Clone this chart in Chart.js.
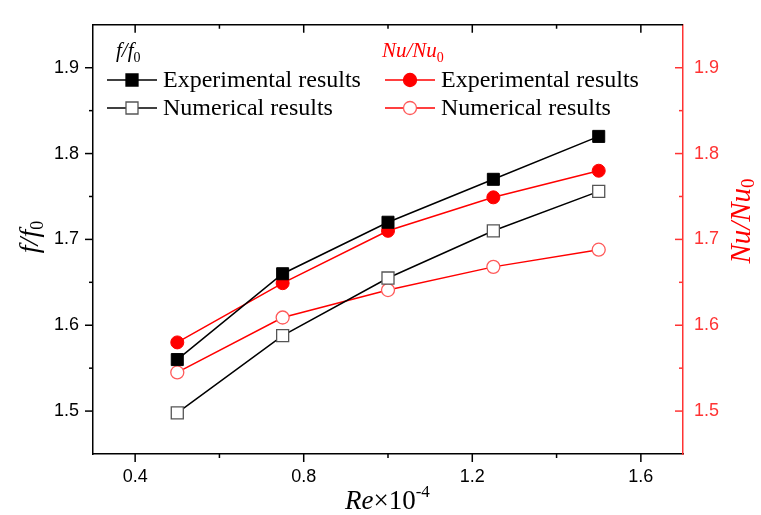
<!DOCTYPE html>
<html>
<head>
<meta charset="utf-8">
<script src="https://cdn.jsdelivr.net/npm/chart.js@4.4.1/dist/chart.umd.min.js"></script>
<style>
  body { margin: 0; background: #fff; }
  #wrap { width: 761px; height: 515px; position: relative; }
</style>
</head>
<body>
<div id="wrap"><canvas id="chart"></canvas></div>
<script>
// Data
const reValues = [0.5, 0.75, 1.0, 1.25, 1.5];
const fExp = [1.56, 1.66, 1.72, 1.77, 1.82];
const fNum = [1.498, 1.588, 1.655, 1.71, 1.756];
const nuExp = [1.58, 1.649, 1.71, 1.749, 1.78];
const nuNum = [1.545, 1.609, 1.641, 1.668, 1.688];
const xTickLabels = [0.4, 0.8, 1.2, 1.6];
const yTickLabels = [1.5, 1.6, 1.7, 1.8, 1.9];

const RED = '#ff0000';
const RED_AXIS = '#ff3333';
const SERIF = '"Liberation Serif", "Times New Roman", serif';
const SANS = '"Liberation Sans", Arial, sans-serif';

function toPoints(ys) {
    return reValues.map((x, i) => ({ x: x, y: ys[i] }));
}

function isLabel(list, v) {
    return list.some(l => Math.abs(l - v) < 1e-6);
}

// draw a run of text pieces (for italic / sub / superscripts)
function drawParts(ctx, parts, x, y) {
    let cx = x;
    parts.forEach(p => {
        ctx.font = p.font;
        ctx.fillStyle = p.color;
        ctx.fillText(p.t, cx, y + (p.dy || 0));
        cx += ctx.measureText(p.t).width;
    });
    return cx;
}
function partsWidth(ctx, parts) {
    let w = 0;
    parts.forEach(p => { ctx.font = p.font; w += ctx.measureText(p.t).width; });
    return w;
}

function drawMarker(ctx, style, x, y, fill, stroke, lw) {
    ctx.save();
    ctx.beginPath();
    if (style === 'rect') {
        ctx.rect(x - 6, y - 6, 12, 12);
    } else {
        ctx.arc(x, y, 6.5, 0, Math.PI * 2);
    }
    ctx.fillStyle = fill;
    ctx.fill();
    ctx.lineWidth = lw;
    ctx.strokeStyle = stroke;
    ctx.stroke();
    ctx.restore();
}

const decorPlugin = {
    id: 'decor',
    afterDraw(chart) {
        const ctx = chart.ctx;
        const a = chart.chartArea;
        const xs = chart.scales.x, yl = chart.scales.y, yr = chart.scales.y1;
        ctx.save();
        ctx.lineWidth = 1.5;

        // top frame line
        ctx.strokeStyle = '#000';
        ctx.beginPath();
        ctx.moveTo(a.left, a.top);
        ctx.lineTo(a.right, a.top);
        ctx.stroke();

        // x ticks: bottom outward, top inward
        [0.4, 0.6, 0.8, 1.0, 1.2, 1.4, 1.6].forEach(v => {
            const px = xs.getPixelForValue(v);
            const len = isLabel(xTickLabels, v) ? 8 : 4;
            ctx.beginPath();
            ctx.moveTo(px, a.bottom);
            ctx.lineTo(px, a.bottom + len);
            ctx.moveTo(px, a.top);
            ctx.lineTo(px, a.top + len);
            ctx.stroke();
        });

        // y ticks: left outward (black), right inward (red)
        [1.5, 1.55, 1.6, 1.65, 1.7, 1.75, 1.8, 1.85, 1.9].forEach(v => {
            const len = isLabel(yTickLabels, v) ? 8 : 4;
            const pyl = yl.getPixelForValue(v);
            ctx.strokeStyle = '#000';
            ctx.beginPath();
            ctx.moveTo(a.left, pyl);
            ctx.lineTo(a.left - len, pyl);
            ctx.stroke();
            const pyr = yr.getPixelForValue(v);
            ctx.strokeStyle = RED_AXIS;
            ctx.beginPath();
            ctx.moveTo(a.right, pyr);
            ctx.lineTo(a.right - len, pyr);
            ctx.stroke();
        });

        ctx.textBaseline = 'alphabetic';
        ctx.textAlign = 'left';

        // left axis title f/f0
        const leftTitle = [
            { t: 'f/f', font: 'italic 28px ' + SERIF, color: '#000' },
            { t: '0', font: '18px ' + SERIF, color: '#000', dy: 5 }
        ];
        ctx.save();
        ctx.translate(38, 237);
        ctx.rotate(-Math.PI / 2);
        drawParts(ctx, leftTitle, -partsWidth(ctx, leftTitle) / 2, 0);
        ctx.restore();

        // right axis title Nu/Nu0
        const rightTitle = [
            { t: 'Nu/Nu', font: 'italic 29px ' + SERIF, color: RED },
            { t: '0', font: '19px ' + SERIF, color: RED, dy: 4 }
        ];
        ctx.save();
        ctx.translate(750, 221);
        ctx.rotate(-Math.PI / 2);
        drawParts(ctx, rightTitle, -partsWidth(ctx, rightTitle) / 2, 0);
        ctx.restore();

        // x axis title Re x 10^-4
        const xTitle = [
            { t: 'Re', font: 'italic 27px ' + SERIF, color: '#000' },
            { t: '\u00d710', font: '27px ' + SERIF, color: '#000' },
            { t: '-4', font: '17px ' + SERIF, color: '#000', dy: -12 }
        ];
        drawParts(ctx, xTitle, 345, 509);

        // legend, two columns with their own titles
        drawParts(ctx, [
            { t: 'f/f', font: 'italic 21px ' + SERIF, color: '#000' },
            { t: '0', font: '14px ' + SERIF, color: '#000', dy: 5 }
        ], 116, 57);
        drawParts(ctx, [
            { t: 'Nu/Nu', font: 'italic 21px ' + SERIF, color: RED },
            { t: '0', font: '14px ' + SERIF, color: RED, dy: 5 }
        ], 382, 57);

        const rows = [
            { x0: 107, y: 80, color: '#000', style: 'rect', fill: '#000', stroke: '#000', text: 'Experimental results' },
            { x0: 107, y: 108, color: '#000', style: 'rect', fill: '#fff', stroke: '#555', text: 'Numerical results' },
            { x0: 385, y: 80, color: RED, style: 'circle', fill: RED, stroke: RED, text: 'Experimental results' },
            { x0: 385, y: 108, color: RED, style: 'circle', fill: '#fff', stroke: '#ff5a5a', text: 'Numerical results' }
        ];
        rows.forEach(r => {
            ctx.strokeStyle = r.color;
            ctx.lineWidth = 1.5;
            ctx.beginPath();
            ctx.moveTo(r.x0, r.y);
            ctx.lineTo(r.x0 + 50, r.y);
            ctx.stroke();
            drawMarker(ctx, r.style, r.x0 + 25, r.y, r.fill, r.stroke, 1.3);
            ctx.font = '24px ' + SERIF;
            ctx.fillStyle = '#000';
            ctx.textBaseline = 'middle';
            ctx.fillText(r.text, r.x0 + 56, r.y + 1);
            ctx.textBaseline = 'alphabetic';
        });

        ctx.restore();
    }
};

const ctx = document.getElementById('chart').getContext('2d');
const chart = new Chart(ctx, {
    type: 'line',
    data: {
        datasets: [
            {
                label: 'f/f0 Experimental results',
                data: toPoints(fExp),
                yAxisID: 'y',
                borderColor: '#000',
                backgroundColor: '#000',
                pointStyle: 'rect',
                pointRadius: 8.5,
                pointBorderWidth: 1,
                borderWidth: 1.5
            },
            {
                label: 'f/f0 Numerical results',
                data: toPoints(fNum),
                yAxisID: 'y',
                borderColor: '#000',
                backgroundColor: '#fff',
                pointBorderColor: '#555',
                pointStyle: 'rect',
                pointRadius: 8.5,
                pointBorderWidth: 1.3,
                borderWidth: 1.5
            },
            {
                label: 'Nu/Nu0 Experimental results',
                data: toPoints(nuExp),
                yAxisID: 'y1',
                borderColor: RED,
                backgroundColor: RED,
                pointStyle: 'circle',
                pointRadius: 6.5,
                pointBorderWidth: 1,
                borderWidth: 1.5
            },
            {
                label: 'Nu/Nu0 Numerical results',
                data: toPoints(nuNum),
                yAxisID: 'y1',
                borderColor: RED,
                backgroundColor: '#fff',
                pointBorderColor: '#ff5a5a',
                pointStyle: 'circle',
                pointRadius: 6.5,
                pointBorderWidth: 1.3,
                borderWidth: 1.5
            }
        ]
    },
    options: {
        responsive: true,
        maintainAspectRatio: false,
        animation: false,
        layout: { padding: { top: 15, left: 0, right: 0, bottom: 0 } },
        plugins: {
            legend: { display: false },
            tooltip: { enabled: false }
        },
        scales: {
            x: {
                type: 'linear',
                min: 0.3,
                max: 1.7,
                afterFit: s => { s.height = 61; },
                afterBuildTicks: s => { s.ticks = xTickLabels.map(v => ({ value: v })); },
                ticks: {
                    callback: v => v.toFixed(1),
                    font: { family: SANS, size: 18 },
                    color: '#000',
                    padding: 12,
                    maxRotation: 0
                },
                grid: { drawOnChartArea: false, drawTicks: false },
                border: { display: true, color: '#000', width: 1.5 }
            },
            y: {
                position: 'left',
                min: 1.45,
                max: 1.95,
                afterFit: s => { s.width = 93; },
                afterBuildTicks: s => { s.ticks = yTickLabels.map(v => ({ value: v })); },
                ticks: {
                    callback: v => v.toFixed(1),
                    font: { family: SANS, size: 18 },
                    color: '#000',
                    padding: 14
                },
                grid: { drawOnChartArea: false, drawTicks: false },
                border: { display: true, color: '#000', width: 1.5 }
            },
            y1: {
                position: 'right',
                min: 1.45,
                max: 1.95,
                afterFit: s => { s.width = 78; },
                afterBuildTicks: s => { s.ticks = yTickLabels.map(v => ({ value: v })); },
                ticks: {
                    callback: v => v.toFixed(1),
                    font: { family: SANS, size: 18 },
                    color: RED_AXIS,
                    padding: 11
                },
                grid: { drawOnChartArea: false, drawTicks: false },
                border: { display: true, color: RED_AXIS, width: 1.5 }
            }
        }
    },
    plugins: [decorPlugin]
});
</script>
</body>
</html>
